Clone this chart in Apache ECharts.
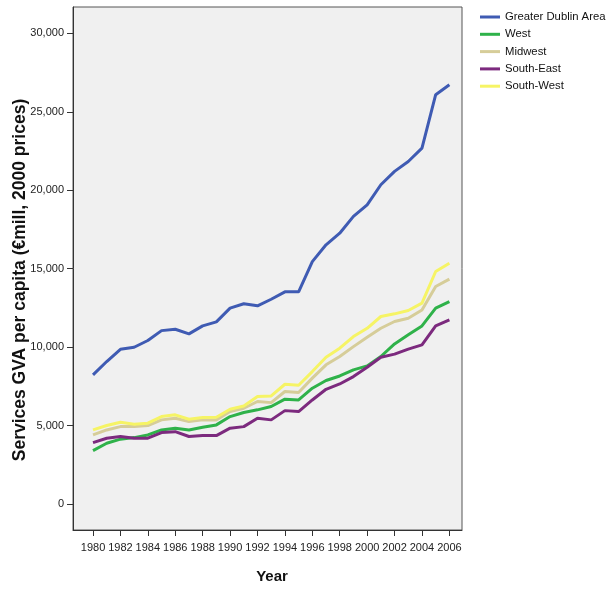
<!DOCTYPE html>
<html><head><meta charset="utf-8">
<script src="https://cdn.jsdelivr.net/npm/echarts@6/dist/echarts.min.js"></script>
<style>html,body{margin:0;padding:0;background:#fff}#c{width:615px;height:592px}</style>
</head><body><div id="c"></div>
<script>
const years = [1980,1981,1982,1983,1984,1985,1986,1987,1988,1989,1990,1991,1992,1993,1994,1995,1996,1997,1998,1999,2000,2001,2002,2003,2004,2005,2006];
const xTicks = [1980,1982,1984,1986,1988,1990,1992,1994,1996,1998,2000,2002,2004,2006];
const yTicks = [0,5000,10000,15000,20000,25000,30000];
const seriesNames = ['Greater Dublin Area','West','Midwest','South-East','South-West'];
const dublin = [8230,9080,9860,9990,10420,11050,11140,10840,11350,11610,12480,12760,12630,13050,13520,13520,15450,16520,17260,18330,19070,20350,21200,21830,22680,26090,26720];
const west = [3400,3870,4130,4230,4400,4720,4830,4720,4890,5040,5570,5830,6000,6210,6680,6630,7380,7870,8160,8550,8800,9400,10200,10780,11350,12480,12900];
const midwest = [4400,4720,4930,4930,5000,5360,5460,5250,5360,5360,5890,6100,6530,6460,7170,7100,8020,8870,9400,10030,10630,11200,11630,11840,12370,13860,14330];
const southEast = [3910,4190,4300,4190,4190,4550,4610,4300,4360,4360,4830,4930,5460,5360,5950,5890,6630,7310,7650,8120,8720,9350,9550,9870,10140,11350,11740];
const southWest = [4720,5000,5210,5080,5150,5570,5680,5400,5510,5530,6040,6250,6850,6890,7630,7570,8440,9350,9930,10670,11200,11950,12120,12330,12800,14820,15350];
const colors = ['#3f5bb3','#2fb24a','#d6cd99','#7c2a7e','#f6f465'];

const allData = [dublin, west, midwest, southEast, southWest];
const chart = echarts.init(document.getElementById('c'), null, {renderer:'canvas'});
const font = 'Liberation Sans, Arial, sans-serif';
chart.setOption({
  animation:false,
  backgroundColor:'#fff',
  grid:{left:73,top:7,width:389,height:523,show:true,backgroundColor:'#f0f0f0',borderColor:'#555',borderWidth:1,containLabel:false},
  xAxis:{type:'value',min:1978.54,max:2006.92,
    axisLine:{show:true,onZero:false,lineStyle:{color:'#333',width:1}},
    axisTick:{show:true,inside:false,length:6,customValues:xTicks,lineStyle:{color:'#333'}},
    axisLabel:{customValues:xTicks,margin:12,color:'#222',fontSize:11,fontFamily:font,formatter:v=>String(v)},
    splitLine:{show:false}},
  yAxis:{type:'value',min:-1660,max:31680,
    axisLine:{show:true,onZero:false,lineStyle:{color:'#333',width:1}},
    axisTick:{show:true,inside:false,length:6,customValues:yTicks,lineStyle:{color:'#333'}},
    axisLabel:{customValues:yTicks,margin:9,color:'#222',fontSize:11,fontFamily:font,formatter:v=>v.toLocaleString('en-US')},
    splitLine:{show:false}},
  legend:{orient:'vertical',left:480,top:10,padding:0,itemWidth:20,itemHeight:3,itemGap:3.3,icon:'rect',
    textStyle:{color:'#111',fontSize:11.3,fontFamily:font,lineHeight:14},
    data:seriesNames},
  graphic:[
    {type:'text',x:20,y:280,rotation:Math.PI/2,style:{text:'Services GVA per capita (€mill, 2000 prices)',font:'bold 17.5px '+font,fill:'#111',align:'center',verticalAlign:'middle'}},
    {type:'text',x:272,y:577,style:{text:'Year',font:'bold 15px '+font,fill:'#111',align:'center',verticalAlign:'middle'}}
  ],
  series: seriesNames.map((n,i)=>({
    name:n,type:'line',showSymbol:false,symbol:'none',
    lineStyle:{width:3,color:colors[i]},itemStyle:{color:colors[i]},
    data: years.map((y,j)=>[y, allData[i][j]])
  }))
});
</script></body></html>
